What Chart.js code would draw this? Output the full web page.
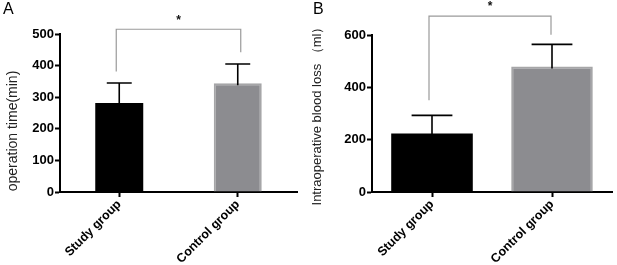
<!DOCTYPE html>
<html>
<head>
<meta charset="utf-8">
<script src="https://cdn.jsdelivr.net/npm/chart.js@4/dist/chart.umd.min.js"></script>
<style>
  html, body { margin: 0; padding: 0; background: #fff; }
  #wrap { position: relative; width: 617px; height: 265px; overflow: hidden; }
  .panel { position: absolute; top: 0; height: 265px; }
  #pA { left: 0; width: 310px; }
  #pB { left: 310px; width: 307px; }
</style>
</head>
<body>
<div id="wrap">
  <div class="panel" id="pA"><canvas id="cA" width="310" height="265"></canvas></div>
  <div class="panel" id="pB"><canvas id="cB" width="307" height="265"></canvas></div>
</div>
<script>
// ---- data ----
const categories = ['Study group', 'Control group'];

// Panel A: operation time (min)
const timeMeans = [282, 344];
const timeErr = [63, 61];
const timeTicksMax = 500;
const timeTickStep = 100;
const timeBracketLevel = 515;
const timeBracketEnds = [381, 442];

// Panel B: intraoperative blood loss (ml)
const lossMeans = [224, 480];
const lossErr = [69, 84];
const lossTicksMax = 600;
const lossTickStep = 200;
const lossBracketLevel = 672;
const lossBracketEnds = [351, 601];

const barColors = ['#000000', '#8c8c90'];
const barBorders = ['#000000', '#a6a6a8'];
const FONT = "'Liberation Sans', Arial, sans-serif";

function makePlugin(cfg) {
  return {
    id: 'extras' + cfg.letter,
    afterDatasetsDraw(chart) {
      const ctx = chart.ctx;
      const ys = chart.scales.y;
      const meta = chart.getDatasetMeta(0);
      ctx.save();
      // error bars (upper)
      ctx.strokeStyle = '#000';
      ctx.lineWidth = 1.6;
      cfg.means.forEach((m, i) => {
        const bar = meta.data[i];
        const x = bar.x;
        const half = bar.width * cfg.capFrac / 2;
        const y0 = ys.getPixelForValue(m);
        const y1 = ys.getPixelForValue(m + cfg.err[i]);
        ctx.beginPath();
        ctx.moveTo(x, y0 + 2);
        ctx.lineTo(x, y1);
        ctx.moveTo(x - half, y1);
        ctx.lineTo(x + half, y1);
        ctx.stroke();
      });
      // significance bracket
      const xl = meta.data[0].x + cfg.bracketDx[0];
      const xr = meta.data[1].x + cfg.bracketDx[1];
      const yl = ys.getPixelForValue(cfg.bracketEnds[0]);
      const yr = ys.getPixelForValue(cfg.bracketEnds[1]);
      const yt = ys.getPixelForValue(cfg.bracketLevel);
      ctx.strokeStyle = '#9a9a9a';
      ctx.lineWidth = 1.2;
      ctx.beginPath();
      ctx.moveTo(xl, yl);
      ctx.lineTo(xl, yt);
      ctx.lineTo(xr, yt);
      ctx.lineTo(xr, yr);
      ctx.stroke();
      ctx.fillStyle = '#111';
      ctx.font = 'bold 12px ' + FONT;
      ctx.textAlign = 'center';
      ctx.textBaseline = 'bottom';
      ctx.fillText('*', (xl + xr) / 2, yt - 3);
      // panel letter
      ctx.font = '16px ' + FONT;
      ctx.textAlign = 'left';
      ctx.textBaseline = 'top';
      ctx.fillStyle = '#000';
      ctx.fillText(cfg.letter, cfg.letterX, 2);
      // y title
      ctx.save();
      ctx.translate(cfg.titleX, cfg.titleY);
      ctx.rotate(-Math.PI / 2);
      ctx.font = cfg.titleFont + 'px ' + FONT;
      ctx.textAlign = 'center';
      ctx.textBaseline = 'middle';
      ctx.fillStyle = '#222';
      ctx.fillText(cfg.title, 0, 0);
      ctx.restore();
      ctx.restore();
    }
  };
}

function makeChart(id, cfg) {
  return new Chart(document.getElementById(id), {
    type: 'bar',
    data: {
      labels: categories,
      datasets: [{
        data: cfg.means,
        backgroundColor: barColors,
        borderColor: barBorders,
        borderWidth: [0, 2],
        borderSkipped: 'bottom',
        barPercentage: cfg.barPct,
        categoryPercentage: 1
      }]
    },
    options: {
      responsive: false,
      animation: false,
      events: [],
      layout: { padding: { top: cfg.padTop, right: cfg.padRight, left: 0, bottom: 0 } },
      plugins: { legend: { display: false }, tooltip: { enabled: false }, title: { display: false } },
      scales: {
        x: {
          grid: { display: true, drawOnChartArea: false, offset: false, tickLength: 5, tickWidth: 2, color: '#000' },
          border: { display: true, color: '#000', width: 2 },
          ticks: { color: '#000', font: { family: FONT, size: 12.5, weight: 'bold' }, minRotation: 45, maxRotation: 45, padding: 0, autoSkip: false },
          afterFit(s) { s.height = 73; }
        },
        y: {
          min: 0, max: cfg.max,
          grid: { display: true, drawOnChartArea: false, tickLength: 5, tickWidth: 2, color: '#000' },
          border: { display: true, color: '#000', width: 2 },
          ticks: { stepSize: cfg.step, color: '#000', font: { family: FONT, size: 13, weight: 'bold' }, padding: 1 },
          afterFit(s) { s.width = cfg.yWidth; }
        }
      }
    },
    plugins: [makePlugin(cfg)]
  });
}

makeChart('cA', {
  letter: 'A', letterX: 3, means: timeMeans, err: timeErr, max: timeTicksMax, step: timeTickStep,
  bracketLevel: timeBracketLevel, bracketEnds: timeBracketEnds, bracketDx: [-3, 3],
  barPct: 0.405, capFrac: 0.52, padTop: 34, padRight: 13, yWidth: 60,
  title: 'operation time(min)', titleX: 13, titleY: 131, titleFont: 14
});
makeChart('cB', {
  letter: 'B', letterX: 3, means: lossMeans, err: lossErr, max: lossTicksMax, step: lossTickStep,
  bracketLevel: lossBracketLevel, bracketEnds: lossBracketEnds, bracketDx: [-3, -1],
  barPct: 0.68, capFrac: 0.5, padTop: 35, padRight: 5, yWidth: 62,
  title: 'Intraoperative blood loss （ml）', titleX: 7, titleY: 113, titleFont: 13
});
</script>
</body>
</html>
